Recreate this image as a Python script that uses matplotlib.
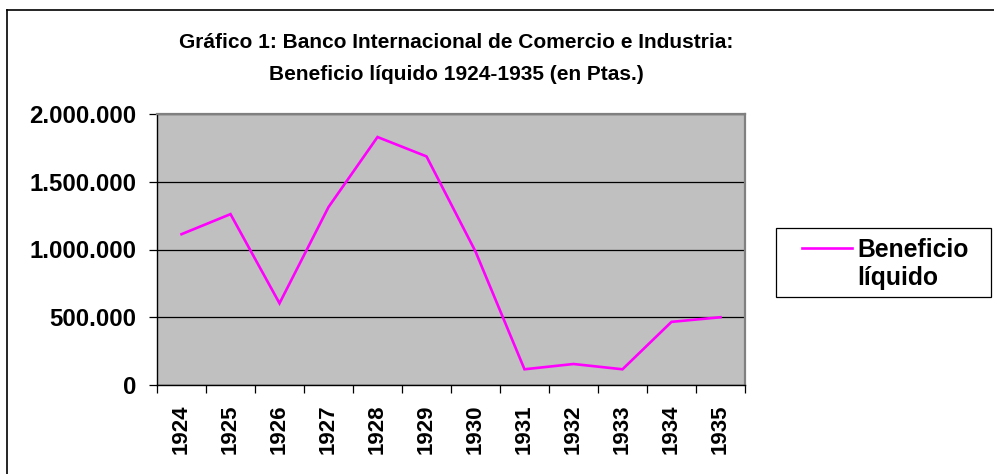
import numpy as np
import matplotlib
matplotlib.use("Agg")
import matplotlib.pyplot as plt
from matplotlib.lines import Line2D
from matplotlib.patches import Rectangle
from matplotlib.ticker import FixedLocator, FuncFormatter

# --- datos ---
anios = ["1924", "1925", "1926", "1927", "1928", "1929",
         "1930", "1931", "1932", "1933", "1934", "1935"]
beneficio = [1113000, 1261000, 603000, 1313000, 1830000, 1687000,
             985000, 116000, 155000, 116000, 466000, 500000]
y_ticks = [0, 500000, 1000000, 1500000, 2000000]
serie = ["Beneficio", "líquido"]   # nombre de la serie (en dos lineas)

TITULO_1 = "Gráfico 1: Banco Internacional de Comercio e Industria:"
TITULO_2 = "Beneficio líquido 1924-1935 (en Ptas.)"
MAGENTA = "#FF00FF"

plt.rcParams["font.family"] = ["Liberation Sans", "DejaVu Sans"]
plt.rcParams["font.weight"] = "bold"

W, H = 994, 474


def fx(px):
    return px / W


def fy(py):
    return 1 - py / H


fig = plt.figure(figsize=(W / 100, H / 100), dpi=100)
ax = fig.add_axes([fx(157), fy(385), fx(745 - 157), (385 - 114) / H])

x = np.arange(len(anios))
ax.plot(x, beneficio, color=MAGENTA, lw=1.9, solid_joinstyle="miter", zorder=3)

ax.set_facecolor("#C0C0C0")
ax.set_xlim(-0.5, len(anios) - 0.5)
ax.set_ylim(0, 2000000)

# rejilla horizontal negra
ax.yaxis.set_major_locator(FixedLocator(y_ticks))
ax.yaxis.set_major_formatter(FuncFormatter(lambda v, p: f"{int(v):,}".replace(",", ".")))
ax.grid(axis="y", color="black", lw=0.9)

# eje x: marcas entre categorias, etiquetas centradas
ax.set_xticks(np.arange(-0.5, len(anios), 1.0))
ax.set_xticklabels([])
ax.set_xticks(x, minor=True)
ax.set_xticklabels(anios, minor=True, rotation=90, fontsize=16, fontweight="bold")
ax.tick_params(axis="x", which="major", length=6, width=0.9, direction="out")
ax.tick_params(axis="x", which="minor", length=0, pad=14)
ax.tick_params(axis="y", length=6, width=0.9, pad=9, labelsize=17.3)

for s in ["top", "right"]:
    ax.spines[s].set_color("#808080")
    ax.spines[s].set_linewidth(1.6)
for s in ["left", "bottom"]:
    ax.spines[s].set_color("black")
    ax.spines[s].set_linewidth(1.0)

fig.text(fx(456), fy(43), TITULO_1, ha="center", va="center",
         fontsize=15, fontweight="bold")
fig.text(fx(456), fy(75), TITULO_2, ha="center", va="center",
         fontsize=15, fontweight="bold")

# leyenda al estilo Excel (caja amplia, texto en dos lineas)
fig.add_artist(Rectangle((fx(776), fy(297)), fx(991 - 776), (297 - 228) / H,
                         transform=fig.transFigure, facecolor="white",
                         edgecolor="black", lw=0.9))
fig.add_artist(Line2D([fx(802), fx(852)], [fy(248), fy(248)], color=MAGENTA,
                      lw=1.9, transform=fig.transFigure))
fig.text(fx(857), fy(257), serie[0], ha="left", va="baseline", fontsize=17.8)
fig.text(fx(857), fy(285), serie[1], ha="left", va="baseline", fontsize=17.8)

# borde exterior del grafico (solo se ven izquierda y arriba)
fig.add_artist(Line2D([fx(7), fx(7)], [0, fy(10)], color="black", lw=1.2,
                      transform=fig.transFigure))
fig.add_artist(Line2D([fx(7), 1], [fy(10), fy(10)], color="black", lw=1.2,
                      transform=fig.transFigure))

fig.savefig("out.png", dpi=100)
